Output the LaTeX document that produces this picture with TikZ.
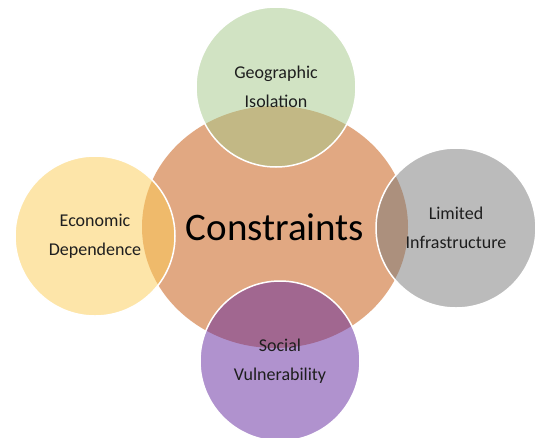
\documentclass[tikz,border=0pt]{standalone}
\usepackage{fontspec}
\setmainfont{Carlito}
\usetikzlibrary{shapes.geometric}
\definecolor{corange}{RGB}{225,168,130}
\definecolor{cgreen}{RGB}{165,201,137}
\definecolor{cyellow}{RGB}{253,205,85}
\definecolor{cgray}{RGB}{121,121,121}
\definecolor{cpurple}{RGB}{99,39,159}
\definecolor{ctext}{RGB}{30,30,30}
\begin{document}
\begin{tikzpicture}[x=1pt,y=-1pt,
  hub/.style={ellipse, fill=corange, minimum width=266pt, minimum height=242pt,
    inner sep=0pt, font=\fontsize{39}{41}\selectfont, text=black},
  sat/.style={circle, fill=#1, fill opacity=0.5, text opacity=1, draw=white,
    draw opacity=1, line width=1.5pt, minimum size=160pt, inner sep=0pt,
    align=center, font=\fontsize{18}{29}\selectfont, text=ctext}]
\useasboundingbox (0,0) rectangle (535,437);
\fill[white] (0,0) rectangle (535,437);
\node[hub] (c) at (275,227) {Constraints};
\node[sat=cgreen] (geo) at (276,87) {Geographic\\Isolation};
\node[sat=cyellow] (eco) at (95,236) {Economic\\Dependence};
\node[sat=cgray] (inf) at (456,228) {Limited\\Infrastructure};
\node[sat=cpurple] (soc) at (280,361) {Social\\Vulnerability};
\end{tikzpicture}
\end{document}
